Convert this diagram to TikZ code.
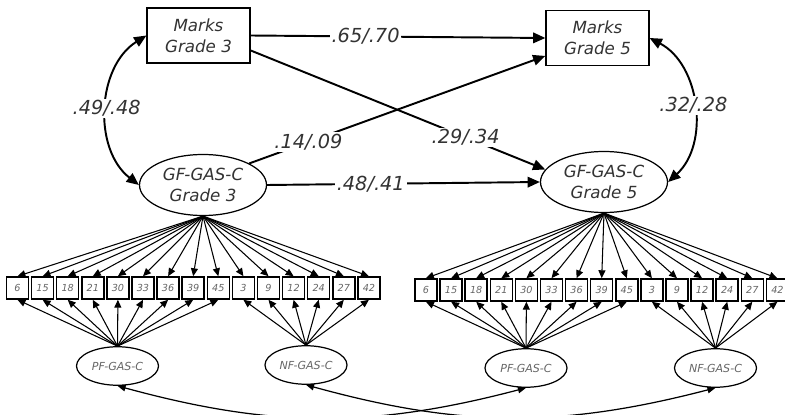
\documentclass[tikz,border=0pt]{standalone}
\usepackage{fontspec}
\setmainfont{DejaVu Sans}
\usetikzlibrary{arrows.meta,shapes.geometric}

\begin{document}
\begin{tikzpicture}[
    obsbox/.style={draw, line width=0.7pt, minimum width=2.06cm, minimum height=1.1cm, align=center,
        font=\itshape\fontsize{9.5}{12}\selectfont, text=black!80},
    latent/.style={draw, ellipse, line width=0.7pt, minimum width=2.54cm, minimum height=1.22cm, inner sep=0pt,
        align=center, font=\itshape\fontsize{9.5}{12}\selectfont, text=black!80},
    item/.style={draw, line width=0.9pt, minimum size=0.44cm, inner sep=0pt,
        font=\itshape\fontsize{5.5}{6}\selectfont, text=black!60},
    factor/.style={draw, ellipse, line width=0.7pt, minimum width=1.64cm, minimum height=0.77cm, inner sep=0pt,
        font=\itshape\fontsize{6.3}{7}\selectfont, text=black!60},
    regpath/.style={-{Triangle[length=7pt,width=6pt]}, line width=1.1pt},
    covpath/.style={{Triangle[length=7pt,width=6pt]}-{Triangle[length=7pt,width=6pt]}, line width=1.1pt},
    load/.style={-{Triangle[length=4.5pt,width=4pt]}, line width=0.6pt},
    lowcov/.style={{Triangle[length=4.6pt,width=3.8pt]}-{Triangle[length=4.6pt,width=3.8pt]}, line width=0.7pt},
    est/.style={fill=white, inner sep=1pt, font=\itshape\fontsize{11}{12}\selectfont, text=black!80}
  ]
    \useasboundingbox (0,0) rectangle (15.7,8.28);

    % structural part
    \node[obsbox] (m3) at (3.97,7.57) {Marks\\Grade 3};
    \node[obsbox] (m5) at (11.95,7.52) {Marks\\Grade 5};
    \node[latent] (g3) at (4.06,4.58) {GF-GAS-C\\Grade 3};
    \node[latent] (g5) at (12.08,4.64) {GF-GAS-C\\Grade 5};

    \draw[regpath] (m3.east) -- node[est, pos=0.39] {.65/.70} (m5.west);
    \draw[regpath] (m3.-16) -- node[est, pos=0.73] {.29/.34} (g5.168);
    \draw[regpath] (g3.25) -- node[est, pos=0.2] {.14/.09} (m5.199);
    \draw[regpath] (g3.east) -- node[est, pos=0.38] {.48/.41} (g5.west);
    \draw[covpath] (m3.west) to[bend right=55] node[est] {.49/.48} (g3.west);
    \draw[covpath] (m5.east) to[bend left=55] node[est] {.32/.28} (g5.east);

    % items
    \foreach \n [count=\i from 0] in {6,15,18,21,30,33,36,39,45,3,9,12,24,27,42} {
        \node[item] (a\i) at ({0.35+0.502*\i},2.52) {\n};
        \node[item] (b\i) at ({8.52+0.502*\i},2.48) {\n};
    }

    % first order factors
    \node[factor] (pf3) at (2.35,0.96) {PF-GAS-C};
    \node[factor] (nf3) at (6.12,0.98) {NF-GAS-C};
    \node[factor] (pf5) at (10.52,0.92) {PF-GAS-C};
    \node[factor] (nf5) at (14.31,0.92) {NF-GAS-C};

    \foreach \i in {0,...,14} {
        \draw[load] (g3.south) -- (a\i.north);
        \draw[load] (g5.south) -- (b\i.north);
    }
    \foreach \i in {0,...,8} {
        \draw[load] (pf3.north) -- (a\i.south);
        \draw[load] (pf5.north) -- (b\i.south);
    }
    \foreach \i in {9,...,14} {
        \draw[load] (nf3.north) -- (a\i.south);
        \draw[load] (nf5.north) -- (b\i.south);
    }

    \draw[lowcov] (pf3.south) to[bend right=15] (pf5.south);
    \draw[lowcov] (nf3.south) to[bend right=15] (nf5.south);
\end{tikzpicture}
\end{document}
